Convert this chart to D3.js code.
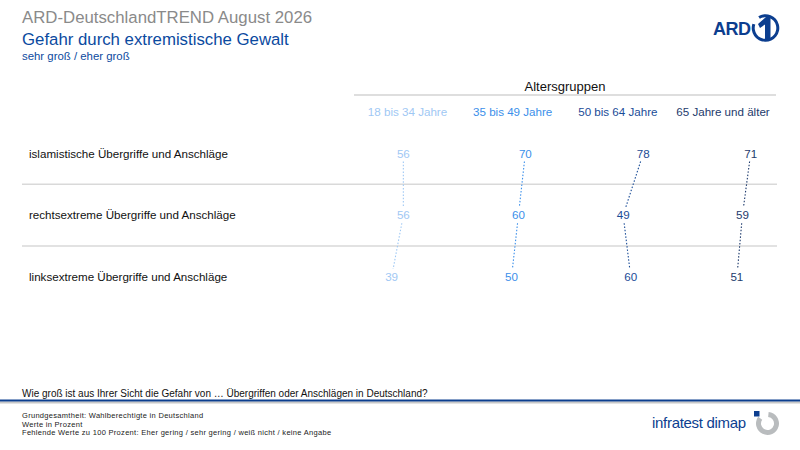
<!DOCTYPE html>
<html><head><meta charset="utf-8">
<script src="https://cdn.jsdelivr.net/npm/d3@7"></script>
<style>
html,body{margin:0;padding:0;background:#fff;}
text{font-family:"Liberation Sans",Arial,sans-serif;}
</style></head>
<body>
<svg id="c" width="800" height="450"></svg>
<script>
const categories = ["islamistische Übergriffe und Anschläge", "rechtsextreme Übergriffe und Anschläge", "linksextreme Übergriffe und Anschläge"];
const groups = ["18 bis 34 Jahre", "35 bis 49 Jahre", "50 bis 64 Jahre", "65 Jahre und älter"];
const v18to34 = [56, 56, 39];
const v35to49 = [70, 60, 50];
const v50to64 = [78, 49, 60];
const v65plus = [71, 59, 51];
const groupColors = ["#9fc8f4", "#3b8fea", "#1a4c97", "#1d3a6c"];

const series = [v18to34, v35to49, v50to64, v65plus];
const svg = d3.select("#c");

// Titles
svg.append("text").attr("x", 22).attr("y", 23).attr("font-size", 16.8).attr("fill", "#8a8a8a").text("ARD-DeutschlandTREND August 2026");
svg.append("text").attr("x", 22).attr("y", 45).attr("font-size", 16.8).attr("fill", "#0b4aa0").text("Gefahr durch extremistische Gewalt");
svg.append("text").attr("x", 22).attr("y", 59.5).attr("font-size", 11.4).attr("fill", "#0b4aa0").text("sehr groß / eher groß");

// ARD logo
const logo = svg.append("g");
logo.append("text").attr("x", 713).attr("y", 35).attr("font-size", 18).attr("font-weight", "bold").attr("fill", "#0c3e8f").attr("letter-spacing", -0.5).text("ARD");
logo.append("path")
  .attr("d", d3.arc()({innerRadius: 10.8, outerRadius: 13.8, startAngle: -0.55, endAngle: 2 * Math.PI - 1.25}))
  .attr("transform", "translate(765.5,28)").attr("fill", "#0c3e8f");
logo.append("path").attr("d", "M758,24 L766,17 L770.5,17 L770.5,39 L765,39 L765,24.5 L760,28 Z").attr("fill", "#0c3e8f");

// Scales
const rowY = d3.scalePoint().domain(categories).range([153.5, 277]);
const colOffset = d3.scalePoint().domain(groups).range([364.7, 701.7]);
const headerX = d3.scalePoint().domain(groups).range([407.5, 723]);
const valueX = d3.scaleLinear().domain([0, 100]).range([0, 69]);

// Header
svg.append("text").attr("x", 565).attr("y", 86).attr("dy", "0.35em").attr("text-anchor", "middle").attr("font-size", 13).attr("fill", "#111").text("Altersgruppen");
svg.append("line").attr("x1", 354).attr("x2", 776).attr("y1", 95).attr("y2", 95).attr("stroke", "#bdbdbd").attr("stroke-width", 1.2);
svg.selectAll(".gh").data(groups).join("text")
  .attr("x", d => headerX(d)).attr("y", 112).attr("dy", "0.35em").attr("text-anchor", "middle")
  .attr("font-size", 11.6).attr("fill", (d, i) => groupColors[i]).text(d => d);

// Row separators
const sepY = [184.3, 246];
svg.selectAll(".sep").data(sepY).join("line")
  .attr("x1", 22).attr("x2", 777).attr("y1", d => d).attr("y2", d => d)
  .attr("stroke", "#d9d9d9").attr("stroke-width", 1.5);

// Row labels
svg.selectAll(".rl").data(categories).join("text")
  .attr("x", 29).attr("y", d => rowY(d)).attr("dy", "0.35em")
  .attr("font-size", 11.6).attr("fill", "#111").text(d => d);

// Connecting dotted lines and values
groups.forEach((g, gi) => {
  const vals = series[gi];
  const pts = vals.map((v, ri) => [colOffset(g) + valueX(v), rowY(categories[ri])]);
  for (let i = 0; i < pts.length - 1; i++) {
    const [x1, y1] = pts[i], [x2, y2] = pts[i + 1];
    const t1 = 8 / (y2 - y1), t2 = 1 - 8 / (y2 - y1);
    svg.append("line")
      .attr("x1", x1 + (x2 - x1) * t1).attr("y1", y1 + 8)
      .attr("x2", x1 + (x2 - x1) * t2).attr("y2", y2 - 8)
      .attr("stroke", groupColors[gi]).attr("stroke-width", 1.1)
      .attr("stroke-dasharray", "1.5,1.8");
  }
  svg.selectAll(".v" + gi).data(vals).join("text")
    .attr("x", (d, ri) => pts[ri][0]).attr("y", (d, ri) => pts[ri][1]).attr("dy", "0.35em")
    .attr("text-anchor", "middle").attr("font-size", 11.6).attr("fill", groupColors[gi]).text(d => d);
});

// Footer
svg.append("text").attr("x", 22).attr("y", 393.5).attr("dy", "0.35em").attr("font-size", 10).attr("fill", "#111")
  .text("Wie groß ist aus Ihrer Sicht die Gefahr von … Übergriffen oder Anschlägen in Deutschland?");
svg.append("rect").attr("x", 0).attr("y", 399.5).attr("width", 800).attr("height", 2.2).attr("fill", "#0c3e8f");
svg.append("rect").attr("x", 0).attr("y", 401.7).attr("width", 800).attr("height", 1.8).attr("fill", "#c8c8c8");
const notes = ["Grundgesamtheit: Wahlberechtigte in Deutschland", "Werte in Prozent", "Fehlende Werte zu 100 Prozent: Eher gering / sehr gering / weiß nicht / keine Angabe"];
svg.selectAll(".note").data(notes).join("text")
  .attr("x", 22).attr("y", (d, i) => 415.3 + i * 8.7).attr("dy", "0.35em")
  .attr("font-size", 7.5).attr("fill", "#222").attr("letter-spacing", 0.3).text(d => d);

// infratest dimap logo
svg.append("text").attr("x", 652).attr("y", 427.5).attr("font-size", 15).attr("fill", "#0c3e8f").attr("letter-spacing", -0.3).text("infratest dimap");
svg.append("path")
  .attr("d", d3.arc()({innerRadius: 6.5, outerRadius: 11.5, startAngle: 0.1, endAngle: Math.PI * 2 - 0.95}))
  .attr("transform", "translate(767.5,423.5)").attr("fill", "#b9bcbe");
svg.append("rect").attr("x", 754).attr("y", 411).attr("width", 5.5).attr("height", 5.5).attr("fill", "#0c3e8f");
</script>
</body></html>
